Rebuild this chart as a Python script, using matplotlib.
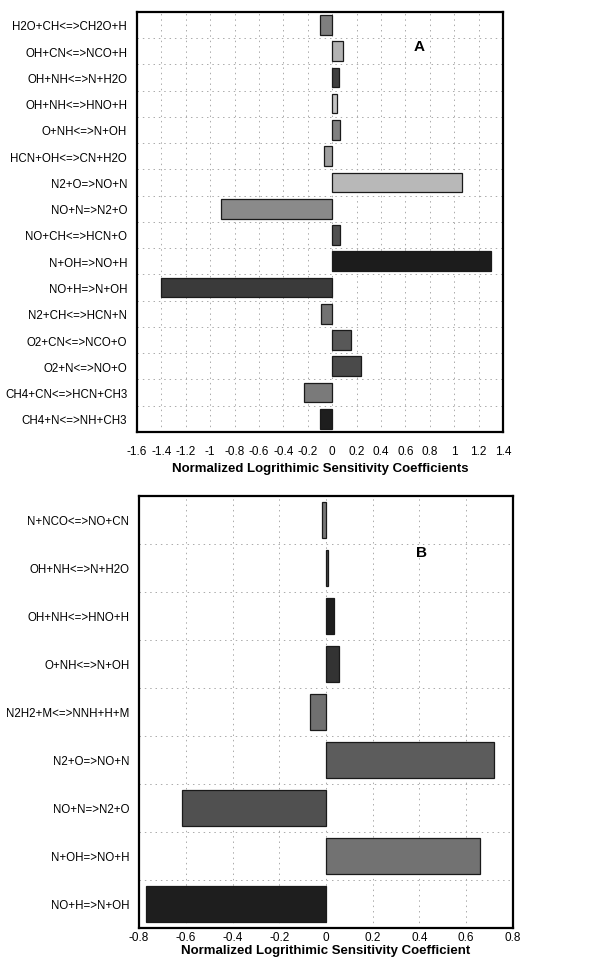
import matplotlib.pyplot as plt
import numpy as np

# === DATA ===
labels_a = ["H2O+CH<=>CH2O+H", "OH+CN<=>NCO+H", "OH+NH<=>N+H2O", "OH+NH<=>HNO+H",
            "O+NH<=>N+OH", "HCN+OH<=>CN+H2O", "N2+O=>NO+N", "NO+N=>N2+O",
            "NO+CH<=>HCN+O", "N+OH=>NO+H", "NO+H=>N+OH", "N2+CH<=>HCN+N",
            "O2+CN<=>NCO+O", "O2+N<=>NO+O", "CH4+CN<=>HCN+CH3", "CH4+N<=>NH+CH3"]
values_a = [-0.10, 0.09, 0.055, 0.038, 0.06, -0.068, 1.068, -0.912,
            0.066, 1.30, -1.40, -0.088, 0.156, 0.238, -0.232, -0.098]
colors_a = ["#7f7f7f", "#b3b3b3", "#3f3f3f", "#c4c4c4", "#808080", "#a0a0a0", "#b8b8b8", "#8a8a8a",
            "#505050", "#1c1c1c", "#3a3a3a", "#727272", "#585858", "#4a4a4a", "#7a7a7a", "#1e1e1e"]

labels_b = ["N+NCO<=>NO+CN", "OH+NH<=>N+H2O", "OH+NH<=>HNO+H", "O+NH<=>N+OH",
            "N2H2+M<=>NNH+H+M", "N2+O=>NO+N", "NO+N=>N2+O", "N+OH=>NO+H", "NO+H=>N+OH"]
values_b = [-0.018, 0.01, 0.035, 0.056, -0.07, 0.72, -0.614, 0.661, -0.77]
colors_b = ["#777777", "#444444", "#1e1e1e", "#333333", "#707070",
            "#5c5c5c", "#505050", "#727272", "#1e1e1e"]

plt.rcParams['font.family'] = ['Liberation Sans', 'DejaVu Sans']

fig = plt.figure(figsize=(6.05, 9.70), dpi=100)


def draw_panel(ax, labels, values, colors, xlim, xstep, letter, letter_pos, xlabel,
               xpad, labelpad):
    y = np.arange(len(labels))
    ax.barh(y, values, height=0.75, color=colors, edgecolor="#1a1a1a", linewidth=0.9, zorder=3)
    ax.set_ylim(len(labels) - 0.5, -0.5)
    ax.set_xlim(*xlim)
    ticks = np.arange(xlim[0], xlim[1] + xstep / 2, xstep)
    ax.set_xticks(ticks)
    ax.set_xticklabels(["0" if abs(t) < 1e-9 else f"{t:g}" for t in ticks], fontsize=8.5)
    ax.set_yticks(y)
    ax.set_yticklabels(labels, fontsize=8.3)
    ax.set_yticks(np.arange(len(labels) - 1) + 0.5, minor=True)
    ax.tick_params(which="both", length=0)
    ax.tick_params(axis="y", pad=7)
    ax.tick_params(axis="x", pad=xpad)
    ax.grid(axis="x", which="major", linestyle=(0, (1.5, 4)), color="#aaaaaa", linewidth=0.7, zorder=0)
    ax.grid(axis="y", which="minor", linestyle=(0, (1.5, 4)), color="#aaaaaa", linewidth=0.7, zorder=0)
    for s in ax.spines.values():
        s.set_linewidth(1.6)
    ax.text(letter_pos[0], letter_pos[1], letter, transform=ax.transAxes,
            fontsize=11, fontweight="bold", ha="center", va="center")
    ax.set_xlabel(xlabel, fontsize=9.5, fontweight="bold", labelpad=labelpad)


ax_a = fig.add_axes([0.2264, 0.5536, 0.605, 0.4333])
draw_panel(ax_a, labels_a, values_a, colors_a, (-1.6, 1.4), 0.2, "A", (0.77, 0.918),
           "Normalized Logrithimic Sensitivity Coefficients", 9, 4)

ax_b = fig.add_axes([0.2298, 0.0423, 0.618, 0.4454])
draw_panel(ax_b, labels_b, values_b, colors_b, (-0.8, 0.8), 0.2, "B", (0.756, 0.871),
           "Normalized Logrithimic Sensitivity Coefficient", 2, 1)

plt.savefig("out.png", dpi=100)
plt.close()
